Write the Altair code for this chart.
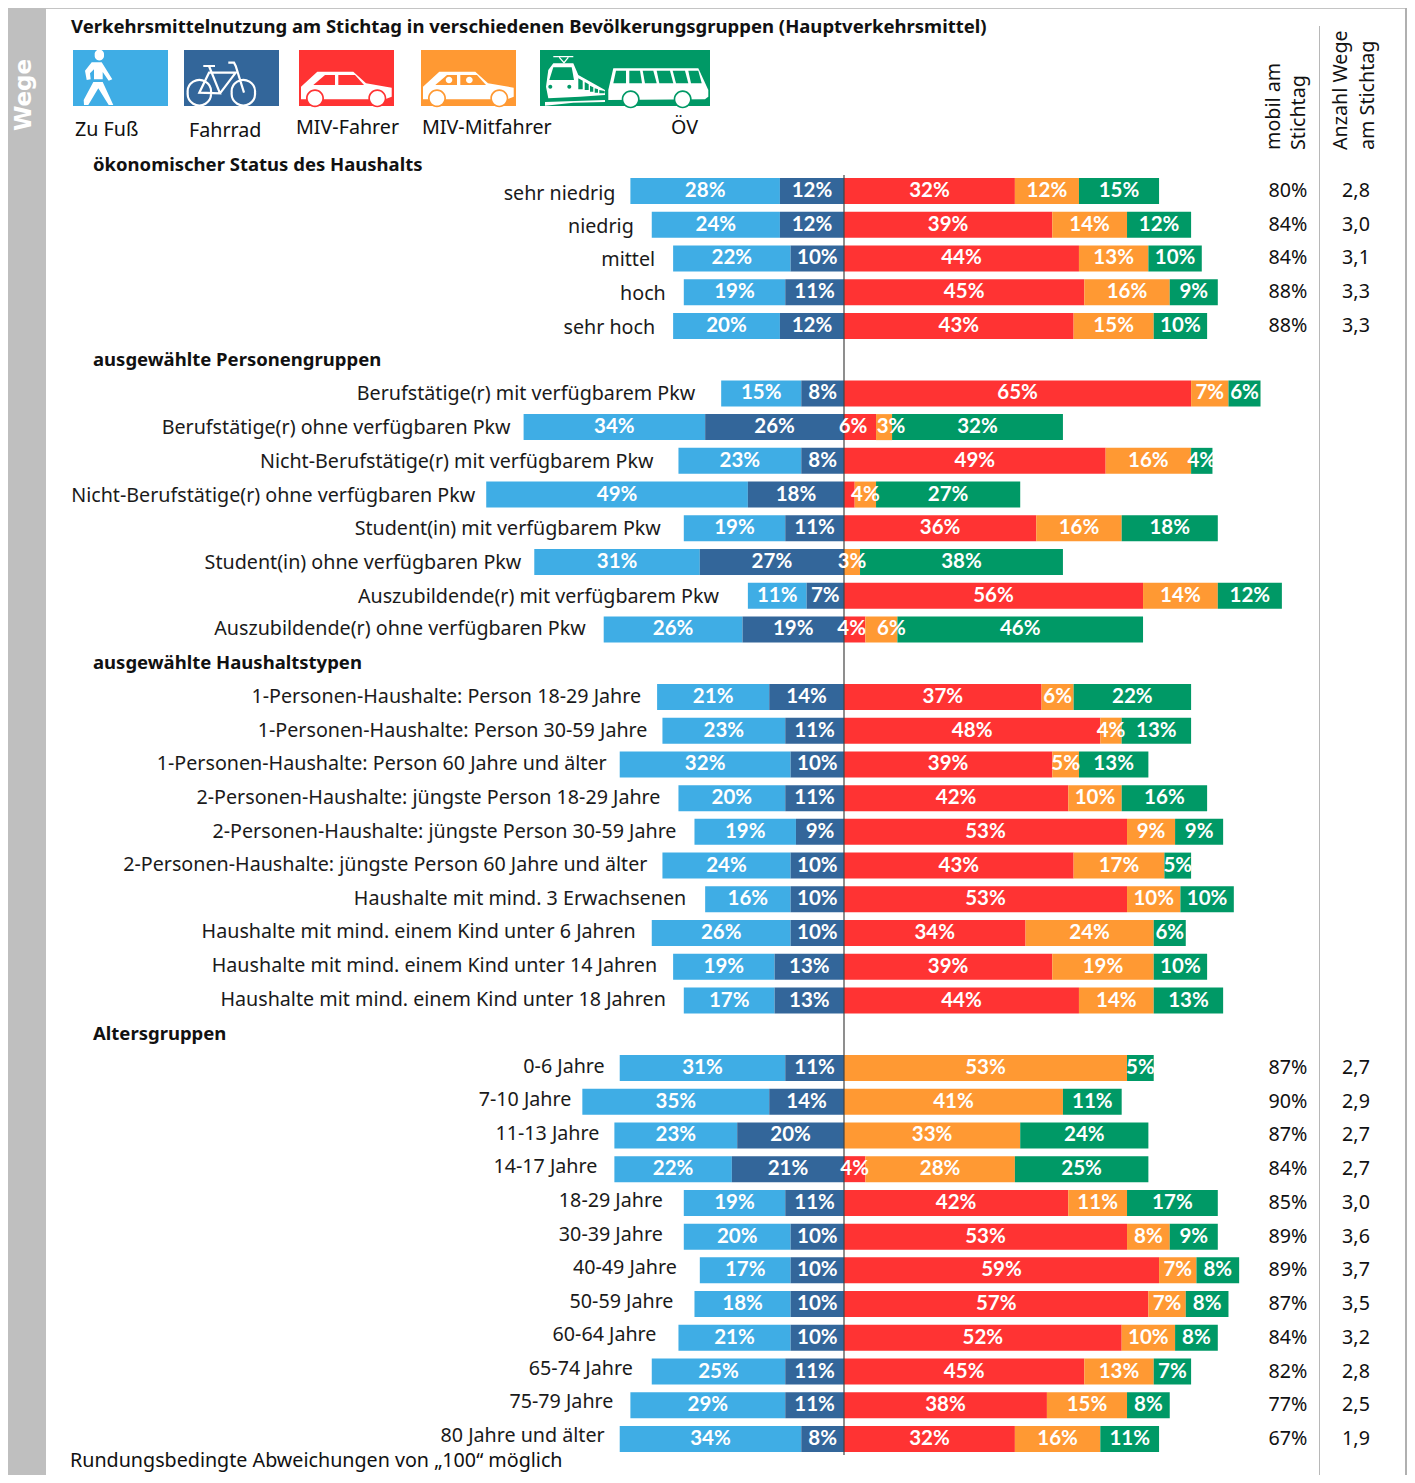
import altair as alt
import pandas as pd

FONT = "Noto Sans"
LABEL_SIZE = 19.7
COLORS = {"Zu Fuß": "#3fade5", "Fahrrad": "#33669a", "MIV-Fahrer": "#ff3333",
          "MIV-Mitfahrer": "#ff9933", "ÖV": "#009966"}

HEADERS = {"h2": "ausgewählte Personengruppen", "h3": "ausgewählte Haushaltstypen", "h4": "Altersgruppen"}

labels_a = ["sehr niedrig", "niedrig", "mittel", "hoch", "sehr hoch"]
labels_b = ["Berufstätige(r) mit verfügbarem Pkw", "Berufstätige(r) ohne verfügbaren Pkw",
            "Nicht-Berufstätige(r) mit verfügbarem Pkw", "Nicht-Berufstätige(r) ohne verfügbaren Pkw",
            "Student(in) mit verfügbarem Pkw", "Student(in) ohne verfügbaren Pkw",
            "Auszubildende(r) mit verfügbarem Pkw", "Auszubildende(r) ohne verfügbaren Pkw"]
labels_c = ["1-Personen-Haushalte: Person 18-29 Jahre", "1-Personen-Haushalte: Person 30-59 Jahre",
            "1-Personen-Haushalte: Person 60 Jahre und älter", "2-Personen-Haushalte: jüngste Person 18-29 Jahre",
            "2-Personen-Haushalte: jüngste Person 30-59 Jahre", "2-Personen-Haushalte: jüngste Person 60 Jahre und älter",
            "Haushalte mit mind. 3 Erwachsenen", "Haushalte mit mind. einem Kind unter 6 Jahren",
            "Haushalte mit mind. einem Kind unter 14 Jahren", "Haushalte mit mind. einem Kind unter 18 Jahren"]
labels_d = ["0-6 Jahre", "7-10 Jahre", "11-13 Jahre", "14-17 Jahre", "18-29 Jahre", "30-39 Jahre",
            "40-49 Jahre", "50-59 Jahre", "60-64 Jahre", "65-74 Jahre", "75-79 Jahre", "80 Jahre und älter"]

walk_a = [28, 24, 22, 19, 20]
bike_a = [12, 12, 10, 11, 12]
driver_a = [32, 39, 44, 45, 43]
passenger_a = [12, 14, 13, 16, 15]
transit_a = [15, 12, 10, 9, 10]

walk_b = [15, 34, 23, 49, 19, 31, 11, 26]
bike_b = [8, 26, 8, 18, 11, 27, 7, 19]
driver_b = [65, 6, 49, 2, 36, 0, 56, 4]
passenger_b = [7, 3, 16, 4, 16, 3, 14, 6]
transit_b = [6, 32, 4, 27, 18, 38, 12, 46]

walk_c = [21, 23, 32, 20, 19, 24, 16, 26, 19, 17]
bike_c = [14, 11, 10, 11, 9, 10, 10, 10, 13, 13]
driver_c = [37, 48, 39, 42, 53, 43, 53, 34, 39, 44]
passenger_c = [6, 4, 5, 10, 9, 17, 10, 24, 19, 14]
transit_c = [22, 13, 13, 16, 9, 5, 10, 6, 10, 13]

walk_d = [31, 35, 23, 22, 19, 20, 17, 18, 21, 25, 29, 34]
bike_d = [11, 14, 20, 21, 11, 10, 10, 10, 10, 11, 11, 8]
driver_d = [0, 0, 0, 4, 42, 53, 59, 57, 52, 45, 38, 32]
passenger_d = [53, 41, 33, 28, 11, 8, 7, 7, 10, 13, 15, 16]
transit_d = [5, 11, 24, 25, 17, 9, 8, 8, 8, 7, 8, 11]

mobil_a = ["80%", "84%", "84%", "88%", "88%"]
wege_a = ["2,8", "3,0", "3,1", "3,3", "3,3"]
mobil_d = ["87%", "90%", "87%", "84%", "85%", "89%", "89%", "87%", "84%", "82%", "77%", "67%"]
wege_d = ["2,7", "2,9", "2,7", "2,7", "3,0", "3,6", "3,7", "3,5", "3,2", "2,8", "2,5", "1,9"]

# layout only: gap between row label and bar
GAP_A = [15, 18, 18, 18, 18]
GAP_B = [26, 13, 25, 11, 23, 13, 29, 18]
GAP_C = [16, 15, 13, 18, 18, 15, 19, 16, 16, 18]
GAP_D = [15, 11, 15, 17, 21, 21, 23, 21, 22, 19, 17, 15]
# layout only: row labels drift vertically against the bars (px)
DY_A = [3, 2, 2, 2, 2]
DY_B = [1, 1, 1, 1, 1, 1, 1, 0]
DY_C = [0, 0, 0, 0, 0, -1, 0, -1, -1, -1]
DY_D = [-1, -2, -1, -2, -2, -2, -2, -2, -3, -3, -3, -3]
# layout only: a few percent labels sit off the centre of their segment (px)
NUDGE = {(labels_b[1], "MIV-Fahrer"): -7, (labels_b[1], "MIV-Mitfahrer"): 7,
         (labels_b[7], "MIV-Fahrer"): -3, (labels_b[7], "MIV-Mitfahrer"): 10}

rows = (labels_a + ["h2"] + labels_b + ["h3"] + labels_c + ["h4"] + labels_d)

walk = walk_a + walk_b + walk_c + walk_d
bike = bike_a + bike_b + bike_c + bike_d
driver = driver_a + driver_b + driver_c + driver_d
passenger = passenger_a + passenger_b + passenger_c + passenger_d
transit = transit_a + transit_b + transit_c + transit_d
labels = labels_a + labels_b + labels_c + labels_d
gaps = GAP_A + GAP_B + GAP_C + GAP_D
dys = DY_A + DY_B + DY_C + DY_D

PX_PER = 5.34
seg, lab = [], []
for i, name in enumerate(labels):
    w, b, d, p, t = walk[i], bike[i], driver[i], passenger[i], transit[i]
    parts = [("Zu Fuß", -(w + b), -b, w), ("Fahrrad", -b, 0, b), ("MIV-Fahrer", 0, d, d),
             ("MIV-Mitfahrer", d, d + p, p), ("ÖV", d + p, d + p + t, t)]
    for mode, x0, x1, v in parts:
        if v > 0:
            seg.append({"row": name, "mode": mode, "x0": x0, "x1": x1,
                        "mid": (x0 + x1) / 2 + NUDGE.get((name, mode), 0) / PX_PER,
                        "text": f"{v}%" if v >= 3 else ""})
    lab.append({"row": name, "x": -(w + b), "gap": gaps[i], "dy": dys[i]})
seg = pd.DataFrame(seg)
lab = pd.DataFrame(lab)

W, H = 1399, 1467
ZERO = 844 - 8
x_scale = alt.Scale(domain=[-ZERO / PX_PER, (W - ZERO) / PX_PER], range=[0, W], nice=False, zero=False)
TOP = 183 - 33.73 / 2
y_scale = alt.Scale(domain=rows, range=[TOP, TOP + 33.73 * len(rows)], paddingInner=0, paddingOuter=0)
X = lambda f: alt.X(f, type="quantitative", scale=x_scale, axis=None)
Y = alt.Y("row:N", scale=y_scale, axis=None)

bars = alt.Chart(seg).mark_bar(size=26).encode(
    x=X("x0"), x2="x1", y=Y,
    color=alt.Color("mode:N", scale=alt.Scale(domain=list(COLORS), range=list(COLORS.values())), legend=None),
)
center = alt.Chart(pd.DataFrame({"v": [0]})).mark_rule(color="#444444", strokeWidth=1.2).encode(
    x=X("v"), y=alt.value(167), y2=alt.value(1447))
bar_text = alt.Chart(seg).mark_text(color="white", font="Lato", fontWeight="bold", fontSize=20.5, baseline="middle").encode(
    x=X("mid"), y=Y, text="text:N")

layers = [bars, center, bar_text]
for (gap, dy), part in lab.groupby(["gap", "dy"]):
    layers.append(alt.Chart(part).mark_text(
        align="right", baseline="middle", font=FONT, fontSize=LABEL_SIZE, color="#1a1a1a", dx=-int(gap), dy=int(dy)).encode(
        x=X("x"), y=Y, text="row:N"))

def txt(s, x, y, size=LABEL_SIZE, weight="normal", align="left", angle=0, color="#111111", font=FONT):
    return alt.Chart(pd.DataFrame({"t": [s]})).mark_text(
        align=align, baseline="middle", font=font, fontSize=size, fontWeight=weight, angle=angle, color=color
    ).encode(text="t:N", x=alt.value(x - 8), y=alt.value(y - 8))

def box(x0, x1, y0, y1, color):
    return alt.Chart(pd.DataFrame({"a": [0]})).mark_rect(color=color).encode(
        x=alt.value(x0 - 8), x2=alt.value(x1 - 8), y=alt.value(y0 - 8), y2=alt.value(y1 - 8))

# frame
deco = [box(8, 46, 8, 1475, "#bfbfbf"), box(46, 1405, 8, 9, "#c4c4c4"), box(1405, 1407, 8, 1475, "#b0b0b0"),
        box(1319, 1320, 26, 1475, "#b8b8b8")]
# legend boxes
deco += [box(73, 168, 50, 106, COLORS["Zu Fuß"]), box(184, 279, 50, 106, COLORS["Fahrrad"]),
         box(299, 394, 50, 106, COLORS["MIV-Fahrer"]), box(421, 516, 50, 106, COLORS["MIV-Mitfahrer"]),
         box(540, 710, 50, 106, COLORS["ÖV"])]

def conv(ox, oy):
    return lambda p: (ox + p[0] / 3 - 8, oy + p[1] / 3 - 8)

def poly(pts, f):
    q = [f(p) for p in pts]
    return "M" + "L".join(f"{a:.1f},{b:.1f}" for a, b in q) + "Z"

def line(pts, f):
    q = [f(p) for p in pts]
    return "M" + "L".join(f"{a:.1f},{b:.1f}" for a, b in q)

def circ(c, r, f):
    a, b = f(c)
    r = r / 3
    return f"M{a-r:.1f},{b:.1f}A{r:.1f},{r:.1f} 0 1 0 {a+r:.1f},{b:.1f}A{r:.1f},{r:.1f} 0 1 0 {a-r:.1f},{b:.1f}Z"

def shape(path, color):
    return alt.Chart(pd.DataFrame({"a": [0]})).mark_point(
        shape=path, size=4, filled=True, fill=color, opacity=1, strokeWidth=0).encode(
        x=alt.value(0), y=alt.value(0))

def stroke(path, color, width):
    return alt.Chart(pd.DataFrame({"a": [0]})).mark_point(
        shape=path, size=4, filled=False, stroke=color, opacity=1, strokeWidth=width).encode(
        x=alt.value(0), y=alt.value(0))

f5 = conv(60, 40)
walker = (circ((118, 45), 14, f5)
          + poly([(95, 67), (125, 67), (157, 118), (146, 122), (128, 96), (128, 118), (102, 118), (102, 88), (90, 100),
                  (92, 118), (80, 120), (75, 92)], f5)
          + poly([(100, 126), (128, 126), (160, 195), (146, 195), (115, 145), (85, 195), (72, 195), (71, 180)], f5))
deco.append(shape(walker, "white"))
bike_path = (circ((418, 158), 35, f5) + circ((550, 158), 35, f5)
             + line([(430, 78), (465, 78)], f5) + line([(447, 78), (480, 160), (418, 158), (447, 98), (527, 98), (480, 160)], f5)
             + line([(505, 68), (522, 68), (527, 78), (552, 158)], f5))
deco.append(stroke(bike_path, "white", 2.2))

f6 = conv(290, 40)
def car(dx, color, heads):
    g = lambda p: f6((p[0] + dx, p[1]))
    out = [shape(poly([(33, 140), (82, 95), (190, 95), (228, 130), (305, 143), (305, 170), (285, 178), (33, 178)], g), "white"),
           shape(poly([(70, 135), (105, 105), (135, 105), (135, 135)], g), color),
           shape(poly([(145, 105), (195, 105), (222, 135), (145, 135)], g), color),
           shape(circ((75, 175), 27, g) + circ((262, 175), 27, g), color),
           shape(circ((75, 175), 22, g) + circ((262, 175), 22, g), "white")]
    if heads:
        out.append(shape(circ((111, 120), 10, g) + circ((172, 120), 10, g), "white"))
    return out
deco += car(0, COLORS["MIV-Fahrer"], False)
deco += car(366, COLORS["MIV-Mitfahrer"], True)

G = COLORS["ÖV"]
deco.append(shape(poly([(768, 140), (775, 90), (790, 70), (850, 70), (865, 105), (945, 150), (945, 165), (870, 170), (775, 175)], f6), "white"))
deco.append(shape(poly([(778, 120), (790, 82), (845, 82), (852, 120)], f6), G))
deco.append(shape(circ((781, 140), 6, f6) + circ((838, 140), 6, f6), G))
deco.append(shape(poly([(865, 115), (878, 122), (878, 148), (865, 148)], f6)
                  + poly([(884, 126), (896, 133), (896, 150), (884, 150)], f6)
                  + poly([(900, 137), (910, 142), (910, 155), (900, 155)], f6)
                  + poly([(914, 145), (924, 148), (924, 158), (914, 158)], f6)
                  + poly([(928, 150), (944, 153), (944, 160), (928, 160)], f6), G))
deco.append(stroke(line([(790, 50), (850, 50)], f6) + line([(808, 52), (822, 68), (835, 52)], f6), "white", 1.2))
deco.append(shape(poly([(765, 186), (945, 180), (945, 186), (850, 188), (765, 197)], f6), "white"))
deco.append(shape(poly([(955, 150), (970, 85), (1225, 85), (1255, 150), (1255, 170), (1245, 178), (955, 180)], f6), "white"))
for win in [[(978, 92), (1008, 92), (1008, 130), (970, 130)], [(1018, 92), (1050, 92), (1056, 130), (1018, 130)],
            [(1058, 92), (1090, 92), (1100, 130), (1065, 130)], [(1100, 92), (1140, 92), (1150, 130), (1108, 130)],
            [(1148, 92), (1185, 92), (1195, 130), (1158, 130)], [(1195, 92), (1225, 92), (1235, 130), (1203, 130)]]:
    deco.append(shape(poly(win, f6), G))
deco.append(shape(circ((1022, 178), 27, f6) + circ((1178, 178), 27, f6), G))
deco.append(shape(circ((1022, 178), 22, f6) + circ((1178, 178), 22, f6), "white"))

texts = [
    txt("Verkehrsmittelnutzung am Stichtag in verschiedenen Bevölkerungsgruppen (Hauptverkehrsmittel)", 71, 27, 18.5, "bold"),
    txt("Zu Fuß", 75, 130), txt("Fahrrad", 189, 131), txt("MIV-Fahrer", 296, 128), txt("MIV-Mitfahrer", 422, 128),
    txt("ÖV", 671, 128),
    txt("ökonomischer Status des Haushalts", 93, 165, 18.5, "bold"),
    txt("Rundungsbedingte Abweichungen von „100“ möglich", 70, 1461),
    txt("Wege", 24, 95, 23, "bold", "center", 270, "white", "DejaVu Sans"),
    txt("mobil am", 1274, 150, angle=270), txt("Stichtag", 1299, 150, angle=270),
    txt("Anzahl Wege", 1341, 150, angle=270), txt("am Stichtag", 1368, 150, angle=270),
]

hdr = pd.DataFrame({"row": list(HEADERS), "t": list(HEADERS.values())})
header_layer = alt.Chart(hdr).mark_text(align="left", baseline="middle", font=FONT, fontSize=18.5, fontWeight="bold",
                                        color="#111111").encode(x=alt.value(85), y=Y, text="t:N")

side = pd.DataFrame({"row": labels_a + labels_d, "m": mobil_a + mobil_d, "a": wege_a + wege_d})
col1 = alt.Chart(side).mark_text(align="center", baseline="middle", font=FONT, fontSize=LABEL_SIZE, color="#111111").encode(
    x=alt.value(1288 - 8), y=Y, text="m:N")
col2 = alt.Chart(side).mark_text(align="center", baseline="middle", font=FONT, fontSize=LABEL_SIZE, color="#111111").encode(
    x=alt.value(1356 - 8), y=Y, text="a:N")

chart = alt.layer(*deco, *layers, *texts, header_layer, col1, col2).properties(
    width=W, height=H, padding=0, autosize=alt.AutoSizeParams(type="none"),
).configure_view(stroke=None)
chart.save("out.html", embed_options={"renderer": "svg", "actions": False})
